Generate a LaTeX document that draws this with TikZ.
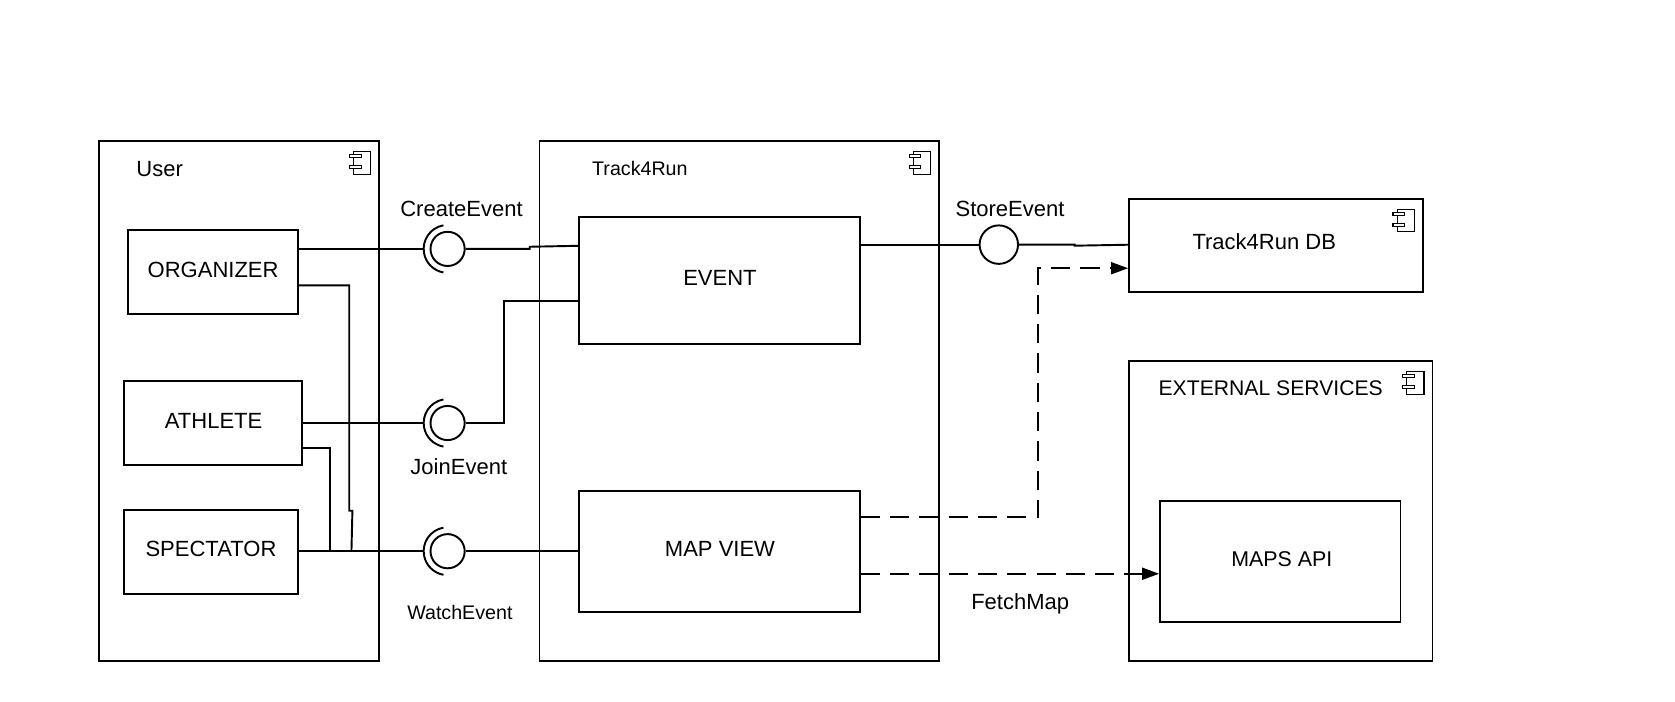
\documentclass[tikz,border=0pt]{standalone}
\usepackage{fontspec}
\setmainfont{Liberation Sans}
\usetikzlibrary{fit,calc,arrows.meta}
\tikzset{
  lw/.style={line width=0.9pt},
  box/.style={draw, lw, inner sep=0pt},
  iface/.style={draw, lw, circle, fill=white, minimum size=16pt, inner sep=0pt},
  conn/.style={lw},
  dep/.style={lw, dash pattern=on 9pt off 4.7pt, -{Triangle[length=8pt,width=5.6pt]}},
  lbl/.style={anchor=base, inner sep=0pt, font=\fontsize{10.3}{12}\selectfont},
  slbl/.style={anchor=base, inner sep=0pt, font=\fontsize{9.2}{11}\selectfont},
  compicon/.pic={
    \draw[line width=0.5pt] (0,0) rectangle (16,21);
    \draw[line width=0.5pt, fill=white] (-4,3) rectangle (7,5.6);
    \draw[line width=0.5pt, fill=white] (-4,13) rectangle (7,15.6);
  }
}
\begin{document}
\begin{tikzpicture}[x=0.5pt,y=-0.5pt]
\useasboundingbox (0,0) rectangle (1568,657);
% containers
\node[box, fit={(93,132) (355,619)}] (user) {};
\node[box, fit={(505,132) (879,619)}] (t4r) {};
\node[box, fit={(1057,186) (1332,273)}] (db) {};
\node[box, fit={(1057,338) (1341,619)}] (ext) {};
% inner components
\node[box, fit={(120,215) (279,294)}] (org) {};
\node[box, fit={(116,357) (283,435)}] (ath) {};
\node[box, fit={(116,477) (279,556)}] (spec) {};
\node[box, fit={(542,203) (805,322)}] (event) {};
\node[box, fit={(542,460) (805,573)}] (map) {};
\node[box, fit={(1086,469) (1311,582)}] (api) {};
% component labels
\node[lbl] (orglbl) at (199.5,259.4) {ORGANIZER};
\node[lbl] (athlbl) at (200,401.4) {ATHLETE};
\node[lbl] (speclbl) at (197.5,521.4) {SPECTATOR};
\node[lbl] (eventlbl) at (674,267.4) {EVENT};
\node[lbl] (maplbl) at (674,521.4) {MAP VIEW};
\node[lbl, font=\fontsize{10}{12}\selectfont] (apilbl) at (1200,530.2) {MAPS API};
\node[lbl] (userlbl) at (149.5,165.5) {User};
\node[slbl] (t4rlbl) at (599,164.6) {Track4Run};
\node[lbl] (dblbl) at (1183.5,233.5) {Track4Run DB};
\node[lbl, font=\fontsize{9.9}{12}\selectfont] (extlbl) at (1189.5,370) {EXTERNAL SERVICES};
% component icons
\pic at (331,142) {compicon};
\pic at (855,142) {compicon};
\pic at (1308,196) {compicon};
\pic at (1317,348) {compicon};
% interfaces
\node[iface] (ce) at (419,233) {};
\node[iface] (je) at (419,396) {};
\node[iface] (we) at (419,516) {};
\node[iface, minimum size=18pt] (se) at (935,229) {};
\foreach \n in {ce,je,we}{
  \draw[lw] ([shift={(100:11.2pt)}]\n.center) arc[start angle=100,end angle=260,radius=11.2pt];
}
% interface labels
\node[lbl] (celbl) at (432,202.5) {CreateEvent};
\node[lbl] (jelbl) at (429.5,444.5) {JoinEvent};
\node[slbl] (welbl) at (430.5,579.6) {WatchEvent};
\node[lbl] (selbl) at (945.5,202.5) {StoreEvent};
\node[lbl] (fmlbl) at (955,570.5) {FetchMap};
% connectors
\draw[conn] (org.east |- ce) -- ($(ce)+(-22.5,0)$);
\draw[conn] (ce.east) -- ++(60,0) -- ++(0,-2) -- ($(event.north west)+(0,28)$);
\draw[conn] ($(event.north west)+(0,80)$) -| ($(je.east)+(36,0)$) -- (je.east);
\draw[conn] (ath.east |- je) -- ($(je)+(-22.5,0)$);
\draw[conn] ($(ath.north east)+(0,63)$) -| ($(we)+(-110,0)$);
\draw[conn] ($(org.north east)+(0,53)$) -| ($(org.north east)+(47,264)$) -- ++(3,0) -- ($(we)+(-90,0)$);
\draw[conn] (spec.east |- we) -- ($(we)+(-22.5,0)$);
\draw[conn] (we.east) -- (map.west |- we);
\draw[conn] (event.east |- se) -- (se.west);
\draw[conn] (se.east) -- ($(se.east)+(52,0)$) -- ++(0,1) -- ($(db.north west)+(0,44)$);
\draw[dep] ($(map.north east)+(0,25)$) -| ($(db.north west)+(-84,66)$) -- ($(db.north west)+(0,66)$);
\draw[dep] ($(map.north east)+(0,78)$) -- ($(api.north west)+(0,69)$);
\end{tikzpicture}
\end{document}
